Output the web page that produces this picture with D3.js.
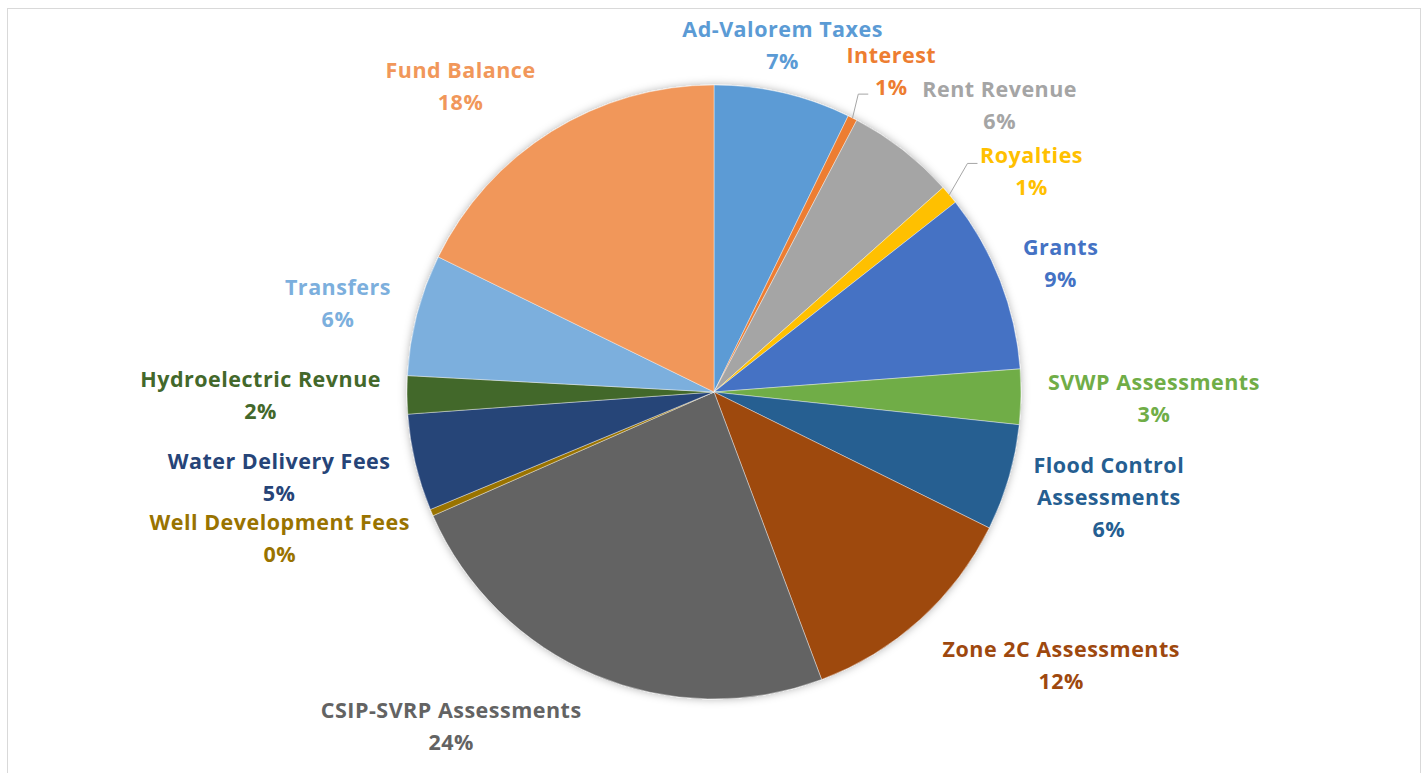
<!DOCTYPE html>
<html>
<head>
<meta charset="utf-8">
<script src="https://cdn.jsdelivr.net/npm/d3@7"></script>
<style>
  html, body { margin: 0; padding: 0; background: #fff; }
  svg text { font-family: "Open Sans", "Noto Sans", sans-serif; font-weight: 700; letter-spacing: 0.5px; }
</style>
</head>
<body>
<div id="chart"></div>
<script>
let W = 1426
let H = 773

// data (percent of revenue)
let categories = ["Ad-Valorem Taxes", "Interest", "Rent Revenue", "Royalties", "Grants",
    "SVWP Assessments", "Flood Control Assessments", "Zone 2C Assessments", "CSIP-SVRP Assessments",
    "Well Development Fees", "Water Delivery Fees", "Hydroelectric Revnue", "Transfers", "Fund Balance"]
let values = [7.2, 0.5, 5.7, 1.0, 9.4, 2.9, 5.6, 12.0, 24.1, 0.35, 5.1, 2.0, 6.4, 17.75]
let colors = ["#5B9BD5", "#ED7D31", "#A5A5A5", "#FFC000", "#4472C4", "#70AD47", "#255E91",
    "#9E480E", "#636363", "#997300", "#264478", "#43682B", "#7CAFDD", "#F1975A"]
// how each label breaks into lines
let labelLines = {
    "Flood Control Assessments": ["Flood Control", "Assessments"]
}

// layout tweaks for the labels (Excel "best fit" placement)
let nudge = {
    "Ad-Valorem Taxes": [-25, -10], "Interest": [14, -13], "Rent Revenue": [43, -15],
    "Royalties": [35, 1], "Grants": [16, -4], "SVWP Assessments": [17, 1],
    "Flood Control Assessments": [18, 5], "Zone 2C Assessments": [55, 18],
    "CSIP-SVRP Assessments": [-89, 17], "Well Development Fees": [-23, 11],
    "Water Delivery Fees": [-18, 6], "Hydroelectric Revnue": [-16, 0],
    "Transfers": [-18, -2], "Fund Balance": [-46, -13]
}
// leader line ends, relative to label centre
let leaders = { "Interest": [-23, 23], "Royalties": [-54, -8] }

let cx = 714, cy = 392, R = 307
let lineH = 32, fontSize = 21.5

let svg = d3.select("#chart").append("svg")
    .attr("width", W).attr("height", H)

// outer chart border
svg.append("rect")
    .attr("x", 7.5).attr("y", 8.5)
    .attr("width", 1413).attr("height", H + 20)
    .attr("fill", "none").attr("stroke", "#D9D9D9")

let defs = svg.append("defs")
defs.append("filter").attr("id", "shadow")
    .attr("x", "-10%").attr("y", "-10%").attr("width", "120%").attr("height", "120%")
    .append("feDropShadow")
    .attr("dx", 0).attr("dy", 0).attr("stdDeviation", 4)
    .attr("flood-color", "#000").attr("flood-opacity", 0.3)

let data = categories.map((c, i) => ({ name: c, value: values[i], color: colors[i] }))

let pie = d3.pie().value(d => d.value).sort(null)
let arcs = pie(data)
let arc = d3.arc().innerRadius(0).outerRadius(R)

let g = svg.append("g").attr("transform", `translate(${cx},${cy})`)

g.append("g").attr("filter", "url(#shadow)")
    .selectAll("path")
    .data(arcs).join("path")
    .attr("d", arc)
    .attr("fill", d => d.data.color)
    .attr("stroke", "#fff").attr("stroke-width", 0.4)

// labels
let labG = g.append("g")
arcs.forEach(a => {
    let name = a.data.name
    let lines = (labelLines[name] || [name]).concat([Math.round(a.data.value) + "%"])
    let t = labG.append("text")
        .attr("fill", a.data.color)
        .attr("text-anchor", "middle")
        .style("font-size", fontSize + "px")
    lines.forEach((l, i) => t.append("tspan").attr("x", 0).attr("y", i * lineH).attr("dy", "0.35em").text(l))
    let w = t.node().getBBox().width
    let h = (lines.length - 1) * lineH + 24
    let th = (a.startAngle + a.endAngle) / 2
    let s = Math.sin(th), c = Math.cos(th)
    let rho = R + 10
    let n = nudge[name] || [0, 0]
    let lx = rho * s + w / 2 * s + n[0]
    let ly = -rho * c - h / 2 * c + n[1]
    t.attr("transform", `translate(${lx},${ly - (lines.length - 1) * lineH / 2})`)

    if (leaders[name]) {
        let p0 = [R * s, -R * c]
        let end = [lx + leaders[name][0], ly + leaders[name][1]]
        let elbow = [end[0] - 10, end[1]]
        labG.append("path")
            .attr("d", d3.line()([p0, elbow, end]))
            .attr("fill", "none").attr("stroke", "#A6A6A6").attr("stroke-width", 1)
    }
})
</script>
</body>
</html>
